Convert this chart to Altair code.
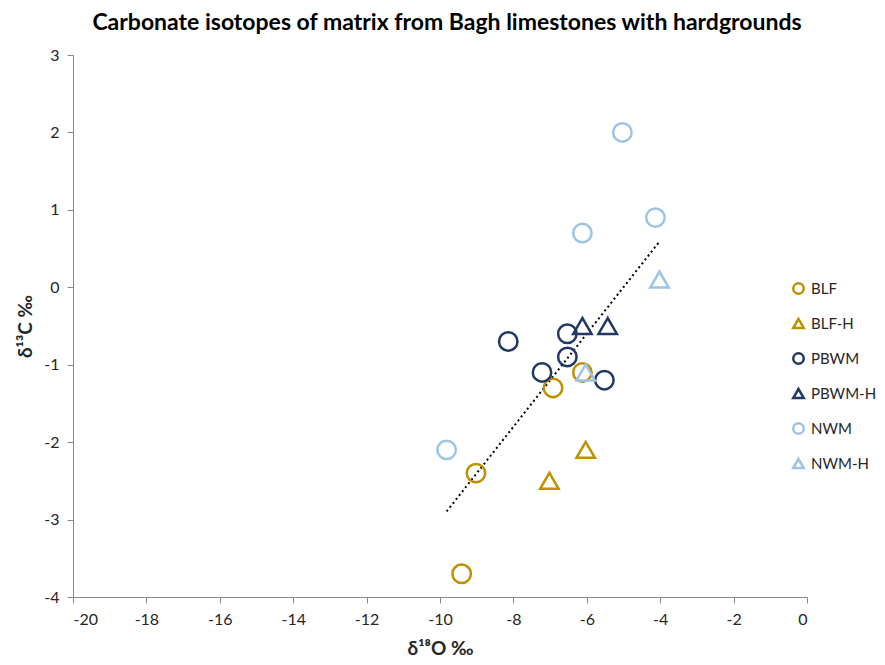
import altair as alt
import pandas as pd

groups = ["BLF", "BLF-H", "PBWM", "PBWM-H", "NWM", "NWM-H"]
colors = ["#BF9000", "#BF9000", "#203864", "#203864", "#9DC3E6", "#9DC3E6"]
shapes = ["circle", "triangle-up", "circle", "triangle-up", "circle", "triangle-up"]

blf_x = [-6.92, -9.02, -9.41, -6.12]
blf_y = [-1.3, -2.4, -3.7, -1.1]
blfh_x = [-7.02, -6.03]
blfh_y = [-2.5, -2.1]
pbwm_x = [-8.14, -6.53, -6.53, -7.22, -5.52]
pbwm_y = [-0.7, -0.6, -0.9, -1.1, -1.2]
pbwmh_x = [-6.12, -5.43]
pbwmh_y = [-0.5, -0.5]
nwm_x = [-9.82, -5.03, -4.13, -6.12]
nwm_y = [-2.1, 2.0, 0.9, 0.7]
nwmh_x = [-4.02, -6.03]
nwmh_y = [0.1, -1.1]

series = {
    "BLF": (blf_x, blf_y),
    "BLF-H": (blfh_x, blfh_y),
    "PBWM": (pbwm_x, pbwm_y),
    "PBWM-H": (pbwmh_x, pbwmh_y),
    "NWM": (nwm_x, nwm_y),
    "NWM-H": (nwmh_x, nwmh_y),
}
rows = []
for g, (xs, ys) in series.items():
    for x, y in zip(xs, ys):
        rows.append({"group": g, "d18O": x, "d13C": y})
df = pd.DataFrame(rows)

FONT = "Lato"
LBL = "datum.value + ''"

xscale = alt.Scale(domain=[-20, 0], nice=False, zero=False)
yscale = alt.Scale(domain=[-4, 3], nice=False, zero=False)

xaxis = alt.Axis(
    title="δ¹⁸O ‰", values=list(range(-20, 1, 2)), grid=False, labelExpr=LBL,
    domainColor="#888888", tickColor="#888888", tickSize=6,
    labelFont=FONT, labelFontSize=16, labelColor="#262626", labelPadding=8,
    titleFont=FONT, titleFontSize=19, titleFontWeight="bold", titleColor="#262626",
    titlePadding=12,
)
yaxis = alt.Axis(
    title="δ¹³C ‰", values=list(range(-4, 4)), grid=False, labelExpr=LBL,
    domainColor="#888888", tickColor="#888888", tickSize=6,
    labelFont=FONT, labelFontSize=16, labelColor="#262626", labelPadding=8,
    titleFont=FONT, titleFontSize=19, titleFontWeight="bold", titleColor="#262626",
    titleX=-48, titleY=271, titleAngle=270, titleBaseline="middle", titleAlign="center",
)

points = alt.Chart(df).mark_point(filled=False, strokeWidth=2.5, size=340, opacity=1).encode(
    x=alt.X("d18O:Q", scale=xscale, axis=xaxis),
    y=alt.Y("d13C:Q", scale=yscale, axis=yaxis),
    color=alt.Color("group:N", scale=alt.Scale(domain=groups, range=colors),
                    legend=alt.Legend(title=None, orient="none", legendX=718, legendY=226,
                                      symbolSize=110, symbolStrokeWidth=2.5,
                                      labelFont=FONT, labelFontSize=15, labelColor="#262626",
                                      rowPadding=14, labelOffset=5, padding=0)),
    shape=alt.Shape("group:N", scale=alt.Scale(domain=groups, range=shapes)),
)

trend = alt.Chart(df).transform_regression("d18O", "d13C").mark_line(
    color="black", strokeDash=[2, 3], strokeWidth=2
).encode(
    x=alt.X("d18O:Q", scale=xscale),
    y=alt.Y("d13C:Q", scale=yscale),
)

chart = alt.layer(trend, points).properties(
    width=734, height=542,
    autosize=alt.AutoSizeParams(type="none"),
    padding={"left": 65, "top": 47, "right": 70, "bottom": 60},
    title=alt.Title("Carbonate isotopes of matrix from Bagh limestones with hardgrounds",
                    font=FONT, fontSize=23, fontWeight="bold", color="black",
                    anchor="middle", baseline="top", offset=12, dx=7),
).configure_view(stroke=None)

chart.save("out.html", embed_options={"renderer": "svg", "actions": False})
